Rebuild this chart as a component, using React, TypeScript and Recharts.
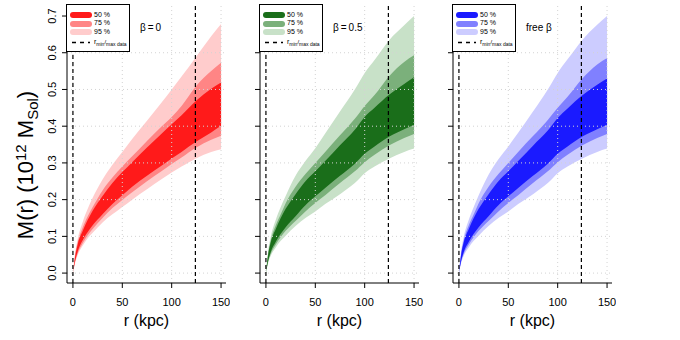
import { ComposedChart, Area, XAxis, YAxis, ReferenceLine, Legend } from 'recharts';

const FONT = '"Liberation Sans", Arial, Helvetica, sans-serif';

// radius in kpc
const radius = [0, 2, 5, 10, 15, 20, 30, 40, 50, 60, 75, 90, 100, 110, 125, 140, 150];
const rTicks = [0, 50, 100, 150];
const massTicks = [0, 0.1, 0.2, 0.3, 0.4, 0.5, 0.6, 0.7];
const sideTicks = [0, 0.1, 0.2, 0.3, 0.4, 0.5, 0.6];
const gridMass = [0, 0.1, 0.2, 0.3, 0.4, 0.5, 0.6];
const rDataLimits = [0, 124];
const bandLabels = ['50 %', '75 %', '95 %'];

// beta = 0
const beta0Hi95 = [0, 0.05, 0.095, 0.14, 0.175, 0.205, 0.255, 0.295, 0.33, 0.365, 0.415, 0.465, 0.5, 0.535, 0.59, 0.645, 0.678];
const beta0Hi75 = [0, 0.045, 0.085, 0.125, 0.155, 0.18, 0.225, 0.26, 0.29, 0.318, 0.36, 0.4, 0.425, 0.455, 0.51, 0.55, 0.573];
const beta0Hi50 = [0, 0.04, 0.08, 0.115, 0.145, 0.17, 0.21, 0.245, 0.275, 0.302, 0.342, 0.38, 0.405, 0.43, 0.47, 0.502, 0.519];
const beta0Lo50 = [0, 0.03, 0.06, 0.09, 0.112, 0.13, 0.16, 0.188, 0.212, 0.235, 0.265, 0.293, 0.312, 0.33, 0.358, 0.383, 0.401];
const beta0Lo75 = [0, 0.028, 0.055, 0.082, 0.103, 0.12, 0.15, 0.177, 0.199, 0.22, 0.25, 0.278, 0.297, 0.315, 0.342, 0.363, 0.374];
const beta0Lo95 = [0, 0.025, 0.05, 0.075, 0.095, 0.11, 0.138, 0.16, 0.18, 0.2, 0.228, 0.256, 0.274, 0.29, 0.313, 0.33, 0.337];

// beta = 0.5
const beta05Hi95 = [0, 0.055, 0.1, 0.145, 0.18, 0.21, 0.265, 0.305, 0.34, 0.38, 0.44, 0.5, 0.545, 0.58, 0.635, 0.675, 0.7];
const beta05Hi75 = [0, 0.048, 0.09, 0.13, 0.16, 0.19, 0.235, 0.27, 0.3, 0.33, 0.375, 0.42, 0.455, 0.485, 0.537, 0.575, 0.593];
const beta05Hi50 = [0, 0.045, 0.085, 0.12, 0.15, 0.175, 0.215, 0.25, 0.277, 0.305, 0.348, 0.39, 0.425, 0.45, 0.486, 0.515, 0.533];
const beta05Lo50 = [0, 0.03, 0.058, 0.085, 0.107, 0.125, 0.155, 0.185, 0.209, 0.232, 0.265, 0.298, 0.325, 0.345, 0.372, 0.392, 0.404];
const beta05Lo75 = [0, 0.028, 0.053, 0.078, 0.098, 0.115, 0.142, 0.168, 0.191, 0.212, 0.245, 0.277, 0.302, 0.322, 0.348, 0.368, 0.379];
const beta05Lo95 = [0, 0.025, 0.048, 0.07, 0.088, 0.102, 0.128, 0.15, 0.168, 0.188, 0.215, 0.245, 0.272, 0.29, 0.312, 0.33, 0.339];

// free beta
const freeHi95 = [0, 0.055, 0.1, 0.145, 0.18, 0.212, 0.268, 0.31, 0.345, 0.382, 0.44, 0.5, 0.545, 0.582, 0.635, 0.676, 0.7];
const freeHi75 = [0, 0.048, 0.09, 0.13, 0.16, 0.19, 0.235, 0.27, 0.3, 0.33, 0.373, 0.417, 0.45, 0.48, 0.53, 0.568, 0.586];
const freeHi50 = [0, 0.045, 0.085, 0.12, 0.15, 0.175, 0.215, 0.25, 0.277, 0.305, 0.347, 0.388, 0.422, 0.448, 0.484, 0.513, 0.53];
const freeLo50 = [0, 0.03, 0.058, 0.085, 0.107, 0.125, 0.155, 0.185, 0.209, 0.232, 0.265, 0.298, 0.325, 0.345, 0.372, 0.392, 0.404];
const freeLo75 = [0, 0.028, 0.053, 0.078, 0.098, 0.115, 0.142, 0.168, 0.191, 0.212, 0.245, 0.277, 0.302, 0.322, 0.348, 0.368, 0.379];
const freeLo95 = [0, 0.025, 0.048, 0.07, 0.088, 0.102, 0.128, 0.15, 0.168, 0.188, 0.215, 0.245, 0.272, 0.29, 0.312, 0.33, 0.339];

function buildRows(lo95: number[], hi95: number[], lo75: number[], hi75: number[], lo50: number[], hi50: number[]) {
  return radius.map((r, i) => ({
    r,
    b95: [lo95[i], hi95[i]],
    b75: [lo75[i], hi75[i]],
    b50: [lo50[i], hi50[i]],
  }));
}

const PLOT_W = 159;

const panels = [
  {
    key: 'b0',
    title: 'β\u2009=\u20090',
    colors: ['#FF1A1A', '#FF8585', '#FFCCCC'],
    rows: buildRows(beta0Lo95, beta0Hi95, beta0Lo75, beta0Hi75, beta0Lo50, beta0Hi50),
    left: 0,
    yWidth: 67,
    labels: true,
  },
  {
    key: 'b05',
    title: 'β\u2009=\u20090.5',
    colors: ['#1A6E1A', '#7BB07B', '#C8E1C8'],
    rows: buildRows(beta05Lo95, beta05Hi95, beta05Lo75, beta05Hi75, beta05Lo50, beta05Hi50),
    left: 230,
    yWidth: 30,
    labels: false,
  },
  {
    key: 'free',
    title: 'free β',
    colors: ['#1A1AFF', '#8080FF', '#CCCCFF'],
    rows: buildRows(freeLo95, freeHi95, freeLo75, freeHi75, freeLo50, freeHi50),
    left: 423,
    yWidth: 30,
    labels: false,
  },
];

function MassTick(props: any) {
  const { x, y, payload } = props;
  return (
    <text
      x={x}
      y={y}
      transform={`rotate(-90, ${x}, ${y})`}
      textAnchor="middle"
      fontSize={11}
      fontFamily={FONT}
      fill="#000"
    >
      {Number(payload.value).toFixed(1)}
    </text>
  );
}

function EmptyTick() {
  return <g />;
}

function XTitle({ cx }: { cx: number }) {
  return (
    <text x={cx} y={326} textAnchor="middle" fontSize={16} fontFamily={FONT} fill="#000">
      r (kpc)
    </text>
  );
}

function YTitle() {
  return (
    <text
      x={33}
      y={165}
      transform="rotate(-90, 33, 165)"
      textAnchor="middle"
      fontSize={22}
      fontFamily={FONT}
      fill="#000"
    >
      M(r) (10
      <tspan fontSize={15} dy={-7}>12</tspan>
      <tspan dy={7}> M</tspan>
      <tspan fontSize={15} dy={5}>Sol</tspan>
      <tspan dy={-5}>)</tspan>
    </text>
  );
}

function PanelLegend({ colors, title }: { colors: string[]; title: string }) {
  const rowTop = [8, 16.7, 25.4];
  return (
    <div style={{ position: 'relative', width: 150, height: 48, fontFamily: FONT, color: '#000' }}>
      <div
        style={{
          position: 'absolute',
          left: 0,
          top: 0,
          width: 64,
          height: 48,
          boxSizing: 'border-box',
          border: '1px solid #000',
          background: '#fff',
        }}
      >
        {bandLabels.map((lab, i) => (
          <div key={lab}>
            <div
              style={{
                position: 'absolute',
                left: 3,
                top: rowTop[i] - 1,
                width: 22,
                height: 6,
                borderRadius: 3,
                background: colors[i],
              }}
            />
            <div style={{ position: 'absolute', left: 27, top: rowTop[i] - 2.5, fontSize: 7, lineHeight: '8px' }}>
              {lab}
            </div>
          </div>
        ))}
        <svg style={{ position: 'absolute', left: 5, top: 36 }} width={18} height={3}>
          <line x1={0} y1={1.5} x2={18} y2={1.5} stroke="#000" strokeWidth={1.3} strokeDasharray="4 4" />
        </svg>
        <div style={{ position: 'absolute', left: 27, top: 33, fontSize: 7, lineHeight: '8px', whiteSpace: 'nowrap' }}>
          r<span style={{ fontSize: 5, position: 'relative', top: 1.5 }}>min</span>
          <span style={{ fontSize: 6 }}>/</span>
          <span style={{ fontSize: 5, position: 'relative', top: 1.5 }}>max data</span>
        </div>
      </div>
      <div style={{ position: 'absolute', left: 74, top: 18, fontSize: 10, lineHeight: '12px', whiteSpace: 'nowrap' }}>
        {title}
      </div>
    </div>
  );
}

export default function App() {
  return (
    <div style={{ position: 'absolute', left: 0, top: 0, width: 680, height: 340, background: '#fff', fontFamily: FONT }}>
      {panels.map((p) => (
        <div key={p.key} style={{ position: 'absolute', left: p.left, top: 0 }}>
          <ComposedChart
            width={p.yWidth + PLOT_W + 4}
            height={340}
            data={p.rows}
            margin={{ top: 5, right: 4, bottom: 27, left: 0 }}
          >
            <XAxis
              dataKey="r"
              type="number"
              domain={[-6, 155]}
              ticks={rTicks}
              allowDataOverflow
              height={30}
              tickSize={5}
              tickMargin={10}
              axisLine={{ stroke: '#000' }}
              tickLine={{ stroke: '#000' }}
              tick={{ fill: '#000', fontSize: 11, fontFamily: FONT }}
              label={<XTitle cx={p.yWidth + PLOT_W / 2} />}
            />
            <XAxis
              xAxisId="top"
              orientation="top"
              dataKey="r"
              type="number"
              domain={[-6, 155]}
              height={0}
              tick={false}
              tickLine={false}
              axisLine={{ stroke: '#000' }}
            />
            <YAxis
              type="number"
              domain={[-0.027, 0.73]}
              ticks={p.labels ? massTicks : sideTicks}
              allowDataOverflow
              width={p.yWidth}
              tickSize={5}
              tickMargin={6}
              axisLine={{ stroke: '#000' }}
              tickLine={{ stroke: '#000' }}
              tick={p.labels ? MassTick : EmptyTick}
              label={p.labels ? <YTitle /> : undefined}
            />
            <YAxis
              yAxisId="right"
              orientation="right"
              type="number"
              domain={[-0.027, 0.73]}
              width={0}
              tick={false}
              tickLine={false}
              axisLine={{ stroke: '#000' }}
            />
            <Area
              type="monotone"
              dataKey="b95"
              stroke="none"
              fill={p.colors[2]}
              fillOpacity={1}
              dot={false}
              activeDot={false}
              isAnimationActive={false}
            />
            <Area
              type="monotone"
              dataKey="b75"
              stroke="none"
              fill={p.colors[1]}
              fillOpacity={1}
              dot={false}
              activeDot={false}
              isAnimationActive={false}
            />
            <Area
              type="monotone"
              dataKey="b50"
              stroke="none"
              fill={p.colors[0]}
              fillOpacity={1}
              dot={false}
              activeDot={false}
              isAnimationActive={false}
            />
            {gridMass.map((v) => (
              <ReferenceLine key={`gy${v}`} y={v} stroke="#d3d3d3" strokeDasharray="1 3" />
            ))}
            {rTicks.map((v) => (
              <ReferenceLine key={`gx${v}`} x={v} stroke="#d3d3d3" strokeDasharray="1 3" />
            ))}
            {rDataLimits.map((v) => (
              <ReferenceLine key={`rl${v}`} x={v} stroke="#000" strokeWidth={1.2} strokeDasharray="4 3" />
            ))}
            <Legend
              layout="horizontal"
              verticalAlign="middle"
              align="center"
              wrapperStyle={{ left: p.yWidth - 1, top: 4, width: 150, height: 48 }}
              content={() => <PanelLegend colors={p.colors} title={p.title} />}
            />
          </ComposedChart>
        </div>
      ))}
    </div>
  );
}
